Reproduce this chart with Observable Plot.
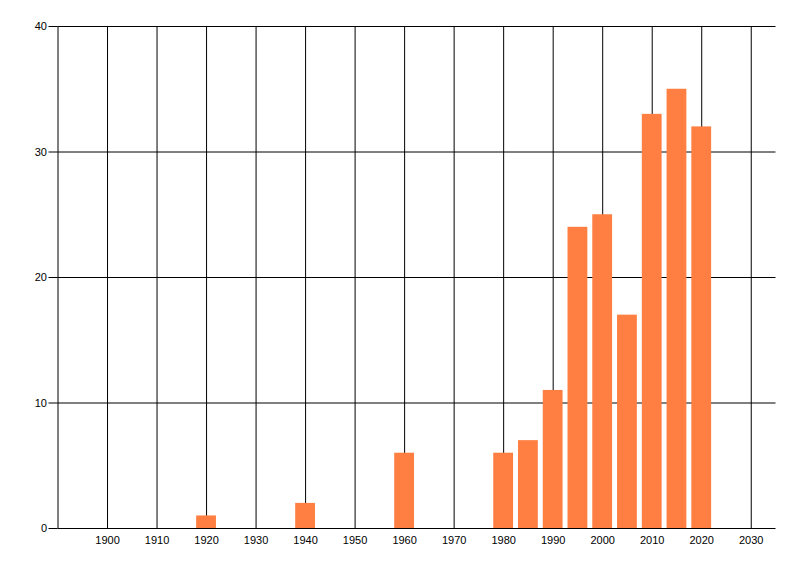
<!DOCTYPE html>
<html>
<head>
<meta charset="utf-8">
<script src="https://cdn.jsdelivr.net/npm/d3@7"></script>
<script src="https://cdn.jsdelivr.net/npm/@observablehq/plot@0.6"></script>
<style>
  html, body { margin: 0; padding: 0; background: #fff; }
</style>
</head>
<body>
<div id="chart"></div>
<script>
const years  = [1920, 1940, 1960, 1980, 1985, 1990, 1995, 2000, 2005, 2010, 2015, 2020];
const counts = [1, 2, 6, 6, 7, 11, 24, 25, 17, 33, 35, 32];
const xTicks = [1900, 1910, 1920, 1930, 1940, 1950, 1960, 1970, 1980, 1990, 2000, 2010, 2020, 2030];
const yTicks = [0, 10, 20, 30, 40];
const barHalfWidth = 2;

const data = years.map((y, i) => ({year: y, count: counts[i]}));

const chart = Plot.plot({
  width: 800,
  height: 576,
  marginLeft: 57.5,
  marginRight: 24.5,
  marginTop: 26,
  marginBottom: 48,
  style: {fontFamily: "'Liberation Sans', Arial, sans-serif", fontSize: "11px", color: "#000", background: "#fff"},
  x: {domain: [1890, 2035], ticks: xTicks, tickFormat: d => String(d), label: null},
  y: {domain: [0, 40], ticks: yTicks, label: null},
  marks: [
    Plot.ruleX(xTicks, {stroke: "#000", strokeWidth: 1}),
    Plot.ruleY(yTicks.filter(d => d > 0), {stroke: "#000", strokeWidth: 1}),
    Plot.rectY(data, {x1: d => d.year - barHalfWidth, x2: d => d.year + barHalfWidth, y: "count", fill: "#ff7f42", inset: 0}),
    Plot.ruleX([1890], {stroke: "#000", strokeWidth: 1}),
    Plot.ruleY([0], {stroke: "#000", strokeWidth: 1.2}),
    Plot.axisX({ticks: xTicks, tickSize: 0, tickPadding: 8, tickFormat: d => String(d), label: null}),
    Plot.axisY({ticks: yTicks, tickSize: 9, tickPadding: 2, label: null, stroke: "#000"})
  ]
});
document.getElementById("chart").appendChild(chart);
</script>
</body>
</html>
